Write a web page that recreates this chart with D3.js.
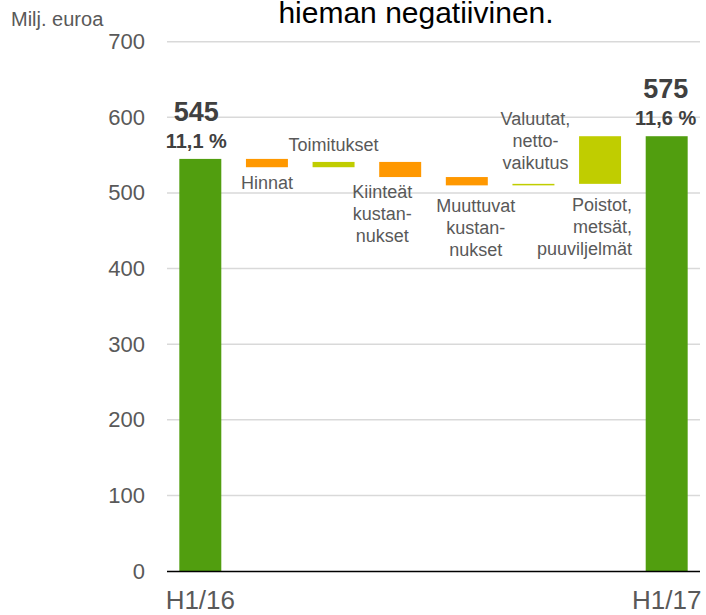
<!DOCTYPE html>
<html>
<head>
<meta charset="utf-8">
<script src="https://cdn.jsdelivr.net/npm/d3@7"></script>
<style>
  body { margin: 0; background: #fff; }
  svg { font-family: "Liberation Sans", Arial, sans-serif; }
</style>
</head>
<body>
<svg id="chart" width="706" height="615"></svg>
<script>

// data
var categories = ["H1/16", "Hinnat", "Toimitukset", "Kiinteät", "Muuttuvat", "Valuutat", "Poistot", "H1/17"];
var labelLines = [
  [],
  ["Hinnat"],
  ["Toimitukset"],
  ["Kiinteät", "kustan-", "nukset"],
  ["Muuttuvat", "kustan-", "nukset"],
  ["Valuutat,", "netto-", "vaikutus"],
  ["Poistot,", "metsät,", "puuviljelmät"],
  []
];
var startValue = 545;
var changes = [-11, 7, -20, -11, 2, 63];
var endValue = 575;
var margins = ["11,1 %", "11,6 %"];
var yTicks = [0, 100, 200, 300, 400, 500, 600, 700];

// where each step label sits relative to its bar
var labelLayout = [
  null,
  {side: "below", dy: 22, dx: 0, anchor: "middle"},
  {side: "above", dy: -11, dx: 0, anchor: "middle"},
  {side: "below", dy: 21, dx: -18, anchor: "middle"},
  {side: "below", dy: 27, dx: 9, anchor: "middle"},
  {side: "above", dy: -15, dx: 2, anchor: "middle"},
  {side: "below", dy: 27.5, dx: 32, anchor: "end"},
  null
];

var colors = {total: "#519e0f", up: "#c0cd00", down: "#ff9800"};

// build waterfall rows
var rows = [];
rows.push({cat: categories[0], lo: 0, hi: startValue, type: "total"});
var run = startValue;
changes.forEach(function(c, i) {
  var next = run + c;
  rows.push({cat: categories[i + 1], lo: Math.min(run, next), hi: Math.max(run, next), type: c >= 0 ? "up" : "down", idx: i + 1});
  run = next;
});
rows.push({cat: categories[categories.length - 1], lo: 0, hi: endValue, type: "total"});

var svg = d3.select("#chart");

var x = d3.scaleBand()
    .domain(categories)
    .range([167, 700])
    .paddingInner(0.37)
    .paddingOuter(0.185);

var y = d3.scaleLinear()
    .domain([0, 700])
    .range([571, 41.7]);

// title (cut off at top, as in the slide)
svg.append("text")
    .attr("x", 416)
    .attr("y", 23)
    .attr("text-anchor", "middle")
    .style("font-size", "30px")
    .style("fill", "#000")
    .text("hieman negatiivinen.");

svg.append("text")
    .attr("x", 11)
    .attr("y", 26)
    .style("font-size", "20px")
    .style("fill", "#595959")
    .text("Milj. euroa");

// gridlines
svg.append("g").selectAll("line")
    .data(yTicks.filter(function(d) { return d > 0; }))
  .enter().append("line")
    .attr("x1", 167)
    .attr("x2", 700)
    .attr("y1", function(d) { return y(d); })
    .attr("y2", function(d) { return y(d); })
    .style("stroke", "#d9d9d9")
    .style("stroke-width", 1.5);

// y axis labels
var yAxis = d3.axisLeft(y).tickValues(yTicks).tickSize(0).tickPadding(22);
var gy = svg.append("g")
    .attr("transform", "translate(167,0)")
    .call(yAxis);
gy.select(".domain").remove();
gy.selectAll("text")
    .style("font-size", "22px")
    .style("font-family", "'Liberation Sans', Arial, sans-serif")
    .style("fill", "#595959");

// bars
svg.append("g").selectAll("rect")
    .data(rows)
  .enter().append("rect")
    .attr("x", function(d) { return x(d.cat); })
    .attr("width", x.bandwidth())
    .attr("y", function(d) { return y(d.hi); })
    .attr("height", function(d) { return Math.max(1.5, y(d.lo) - y(d.hi)); })
    .style("fill", function(d) { return colors[d.type]; });

// x axis line and labels
svg.append("line")
    .attr("x1", 167)
    .attr("x2", 700)
    .attr("y1", y(0) + 0.5)
    .attr("y2", y(0) + 0.5)
    .style("stroke", "#000")
    .style("stroke-width", 1.5);

var xAxis = d3.axisBottom(x)
    .tickValues([categories[0], categories[categories.length - 1]])
    .tickSize(0)
    .tickPadding(20);
var gx = svg.append("g")
    .attr("transform", "translate(0," + y(0) + ")")
    .call(xAxis);
gx.select(".domain").remove();
gx.selectAll("text")
    .style("font-size", "26px")
    .style("font-family", "'Liberation Sans', Arial, sans-serif")
    .style("fill", "#595959");

// totals: value + margin
var totals = rows.filter(function(d) { return d.type === "total"; });
totals.forEach(function(d, i) {
  var cx = x(d.cat) + x.bandwidth() / 2 - (i === 0 ? 4 : 1);
  svg.append("text")
      .attr("x", cx)
      .attr("y", y(d.hi) - 38)
      .attr("text-anchor", "middle")
      .style("font-size", "27px")
      .style("font-weight", "bold")
      .style("fill", "#404040")
      .text(d.hi);
  svg.append("text")
      .attr("x", cx)
      .attr("y", y(d.hi) - 11)
      .attr("text-anchor", "middle")
      .style("font-size", "20px")
      .style("font-weight", "bold")
      .style("fill", "#404040")
      .text(margins[i]);
});

// step labels
var lineH = 22;
rows.forEach(function(d) {
  if (!d.idx) return;
  var lay = labelLayout[d.idx], lines = labelLines[d.idx];
  var bx = x(d.cat) + x.bandwidth() / 2;
  var y0 = lay.side === "below"
      ? y(d.lo) + lay.dy
      : y(d.hi) + lay.dy - (lines.length - 1) * lineH;
  var t = svg.append("text")
      .attr("text-anchor", lay.anchor)
      .style("font-size", "18px")
      .style("fill", "#595959");
  lines.forEach(function(s, j) {
    t.append("tspan")
        .attr("x", bx + lay.dx)
        .attr("y", y0 + j * lineH)
        .text(s);
  });
});

</script>
</body>
</html>
